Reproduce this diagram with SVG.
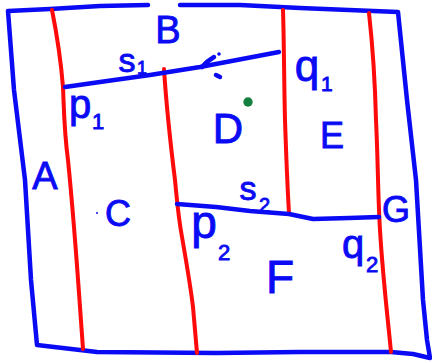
<svg xmlns="http://www.w3.org/2000/svg" width="432" height="363" viewBox="0 0 432 363">
<style>
.bl{fill:none;stroke:#0a0af5;stroke-width:4.5;stroke-linecap:round;stroke-linejoin:round}
.rd{fill:none;stroke:#ff0a0a;stroke-width:4;stroke-linecap:round;stroke-linejoin:round}
.t{fill:#0a0af5;stroke:#0a0af5;stroke-width:0.9;font-family:"Liberation Sans","DejaVu Sans",sans-serif;text-anchor:middle}
.sub{text-anchor:start}
</style>
<rect width="432" height="363" fill="#fff"/>
<g id="boundary">
<path class="bl" d="M180,5 L240,5 L300,8 L398,12 L407,100 L416,180 L423,300 L427,340 L430,358 L413,354 L391,352 L300,352 L216,353 L97,352 L37,345 L31,280 L25,180 L14,90 L8,11 L50,9 L100,6 L148,5"/>
</g>
<g id="connectors">
<path class="rd" d="M52,10 C56,30 60,50 63,87 C64,110 64,130 68,160 C72,200 76,250 80,307 L83,349"/>
<path class="rd" d="M164,69 C166,100 170,140 175,180 C177,200 178,215 182,237 C186,260 191,290 193,307 L197,353"/>
<path class="rd" d="M283,10 C284,40 284,80 285,120 C286,150 287,180 289,213"/>
<path class="rd" d="M369,13 C372,40 375,80 376,120 C378,160 378,200 380,230 C383,280 388,320 391,352"/>
<path class="bl" d="M65,87 L100,82 L150,75 L200,67 L279,52"/>
<path class="bl" d="M177,204 L216,207 L250,211 L289,214 L313,219 L349,218 L379,217"/>
<path class="bl" d="M214,57 Q207,61 202,67" stroke-width="3"/>
<circle cx="219" cy="54" r="1.8" fill="#0a0af5"/>
<path class="bl" d="M216,75 L220,77" stroke-width="3"/>
<circle cx="97" cy="213" r="1" fill="#0a0af5"/>
<circle cx="248" cy="102" r="4.7" fill="#138040"/>
</g>
<g id="A"><text class="t" x="45" y="189" font-size="38">A</text></g>
<g id="B"><text class="t" x="168" y="43" font-size="38">B</text></g>
<g id="C"><text class="t" x="118" y="226" font-size="36">C</text></g>
<g id="D"><text class="t" x="228" y="143" font-size="42">D</text></g>
<g id="E"><text class="t" x="332" y="148" font-size="36">E</text></g>
<g id="F"><text class="t" x="280" y="293" font-size="46">F</text></g>
<g id="G"><text class="t" x="396" y="222" font-size="36">G</text></g>
<g id="s1"><text class="t" x="127" y="72" font-size="34">s</text><text class="t sub" x="137" y="74" font-size="18">1</text></g>
<g id="p1"><text class="t" x="80" y="118" font-size="40">p</text><text class="t sub" x="92" y="129" font-size="22">1</text></g>
<g id="q1"><text class="t" x="307" y="81" font-size="44">q</text><text class="t sub" x="321" y="91" font-size="21">1</text></g>
<g id="s2"><text class="t" x="248" y="200" font-size="34">s</text><text class="t sub" x="259" y="212" font-size="20">2</text></g>
<g id="p2"><text class="t" x="204" y="238" font-size="46">p</text><text class="t sub" x="218" y="260" font-size="22">2</text></g>
<g id="q2"><text class="t" x="353" y="258" font-size="40">q</text><text class="t sub" x="366" y="272" font-size="22">2</text></g>
</svg>
